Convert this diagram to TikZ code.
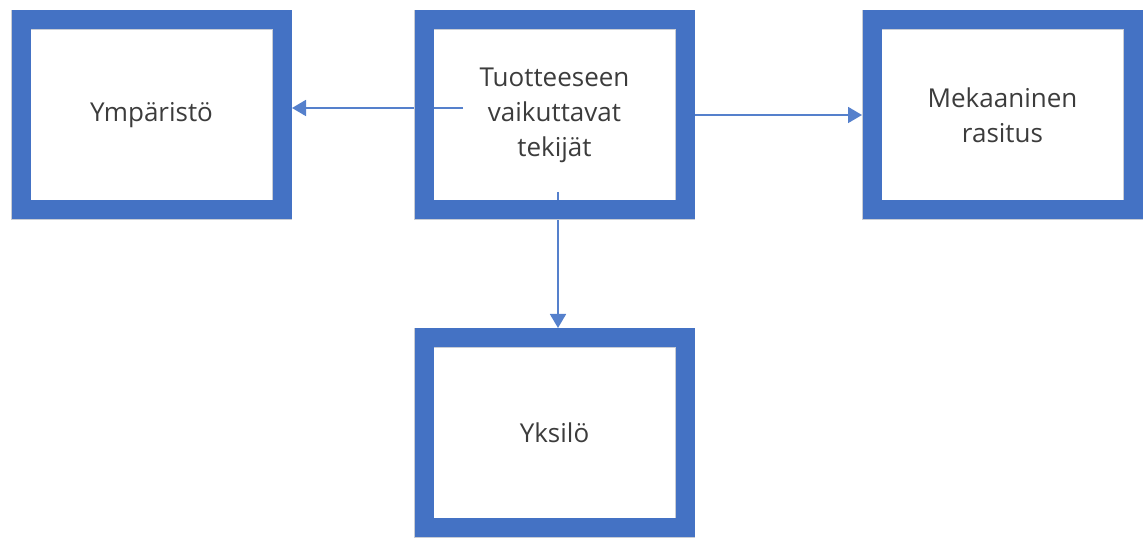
\documentclass[tikz,border=0pt]{standalone}
\usepackage{fontspec}
\setmainfont{Open Sans}
\usepackage{xcolor}
\usepackage{tikz}
\usetikzlibrary{positioning,arrows.meta,backgrounds}
\definecolor{boxblue}{HTML}{4472C4}
\definecolor{linkblue}{HTML}{5580CC}
\definecolor{edgegray}{HTML}{C8CCD4}
\definecolor{textgray}{HTML}{3C3C3C}

\begin{document}
\begin{tikzpicture}[
    x=1pt, y=1pt,
    factorbox/.style={rectangle, draw=edgegray, line width=0.6pt, double=boxblue,
        double distance=19pt, outer sep=10pt, inner sep=0pt,
        minimum width=261pt, minimum height=190pt, align=center,
        text=textgray, font=\fontsize{26}{35}\selectfont},
    link/.style={draw=linkblue, line width=1.8pt, -{Triangle[length=14pt,width=16pt]}}
]
    \useasboundingbox (0,0) rectangle (1144,538);
    \node[factorbox] (factors) at (554.5,423) {Tuotteeseen\\vaikuttavat\\tekijät};
    \node[factorbox, left=122pt of factors] (environment) {Ympäristö};
    \node[factorbox, right=167pt of factors] (strain) {Mekaaninen\\rasitus};
    \node[factorbox, below=108pt of factors] (individual) {Yksilö};
    \coordinate (envstart) at (463,430);
    \coordinate (indstart) at (558,346);
    \begin{scope}[on background layer]
        \draw[link] (envstart) -- (envstart -| environment.east);
        \draw[link] (factors.east) -- (strain.west);
        \draw[link] (indstart) -- (indstart |- individual.north);
    \end{scope}
\end{tikzpicture}
\end{document}
